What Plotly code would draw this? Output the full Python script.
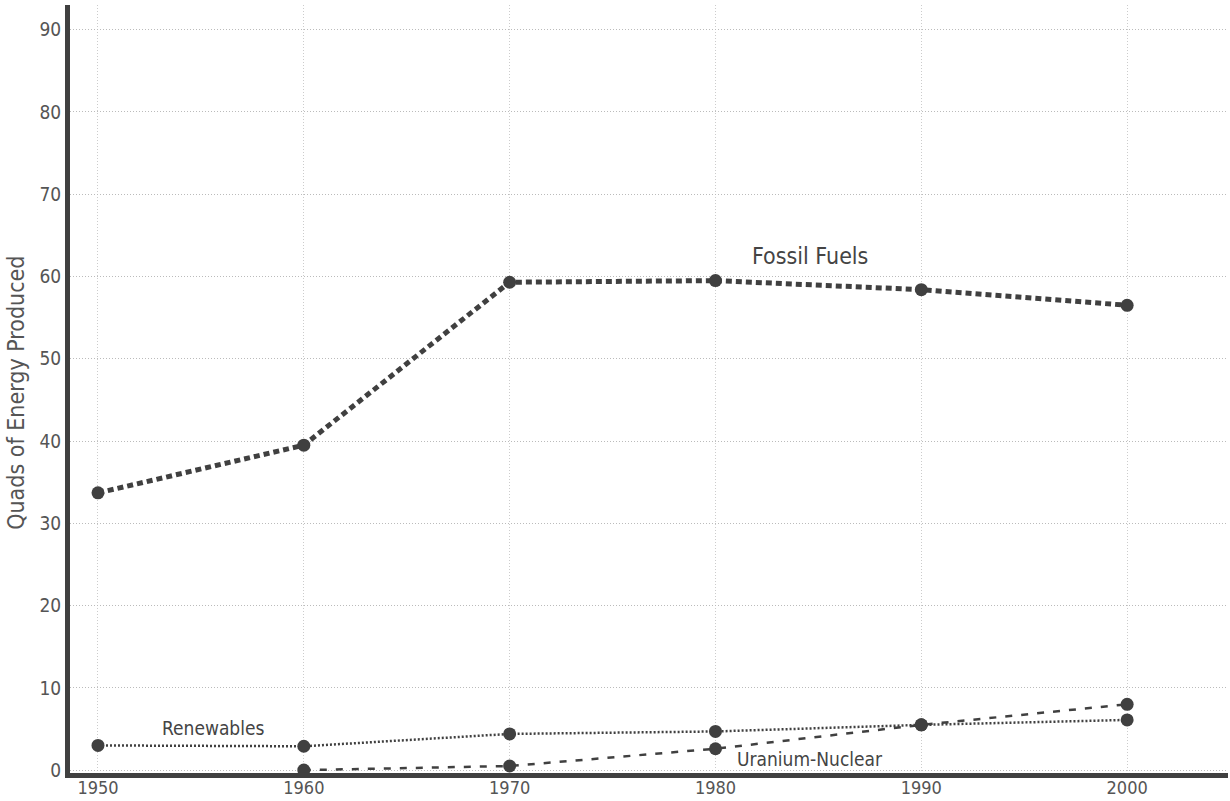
import plotly.graph_objects as go

years = [1950, 1960, 1970, 1980, 1990, 2000]
fossil = [33.7, 39.5, 59.3, 59.5, 58.4, 56.5]
renew_years = [1950, 1960, 1970, 1980, 1990, 2000]
renewables = [3.0, 2.9, 4.4, 4.7, 5.5, 6.1]
nuc_years = [1960, 1970, 1980, 1990, 2000]
nuclear = [0.0, 0.5, 2.6, 5.5, 8.0]

y_ticks = [0, 10, 20, 30, 40, 50, 60, 70, 80, 90]
x_ticks = [1950, 1960, 1970, 1980, 1990, 2000]

C = "#404040"
FONT = "DejaVu Sans Condensed, Liberation Sans Narrow, Arial Narrow, sans-serif"

fig = go.Figure()
fig.add_trace(go.Scatter(x=years, y=fossil, mode="lines+markers",
                         line=dict(color=C, width=5, dash="6px,4px"),
                         marker=dict(size=13, color=C), name="Fossil Fuels"))
fig.add_trace(go.Scatter(x=renew_years, y=renewables, mode="lines+markers",
                         line=dict(color=C, width=2.5, dash="2px,2px"),
                         marker=dict(size=13, color=C), name="Renewables"))
fig.add_trace(go.Scatter(x=nuc_years, y=nuclear, mode="lines+markers",
                         line=dict(color=C, width=2.5, dash="7px,9px"),
                         marker=dict(size=13, color=C), name="Uranium-Nuclear"))

fig.add_annotation(x=1984.6, y=62.5, text="Fossil Fuels", showarrow=False,
                   font=dict(size=23, color="#444", family=FONT))
fig.add_annotation(x=1955.6, y=5.1, text="Renewables", showarrow=False,
                   font=dict(size=19, color="#444", family=FONT))
fig.add_annotation(x=1984.6, y=1.3, text="Uranium-Nuclear", showarrow=False,
                   font=dict(size=19, color="#444", family=FONT))
fig.add_annotation(xref="paper", yref="paper", x=0, y=0.495, xshift=-54, xanchor="center",
                   yanchor="middle",
                   text="Quads of Energy Produced", textangle=-90, showarrow=False,
                   font=dict(size=23, color="#555", family=FONT))

fig.update_layout(
    width=1230, height=801,
    margin=dict(l=70, r=2, t=5, b=28),
    plot_bgcolor="white", paper_bgcolor="white",
    showlegend=False,
    font=dict(family=FONT, color="#555", size=17),
)
fig.update_xaxes(range=[1948.64, 2004.9], tickvals=x_ticks, ticktext=[str(v) for v in x_ticks],
                 showgrid=True, gridcolor="#cccccc", griddash="1px,2px", gridwidth=1,
                 showline=True, linecolor=C, linewidth=5, ticks="", zeroline=False,
                 automargin=False, ticklabelstandoff=-6,
                 tickfont=dict(size=18, color="#555", family=FONT))
fig.update_yaxes(range=[-0.35, 93], tickvals=y_ticks, ticktext=[str(v) for v in y_ticks],
                 showgrid=True, gridcolor="#bbbbbb", griddash="1px,2px", gridwidth=1,
                 showline=True, linecolor=C, linewidth=5, ticks="", zeroline=False,
                 automargin=False,
                 tickfont=dict(size=19, color="#555", family=FONT))

fig.write_html("out.html", config={"displayModeBar": False},
               post_script="document.body.style.margin='0';document.body.style.padding='0';")
